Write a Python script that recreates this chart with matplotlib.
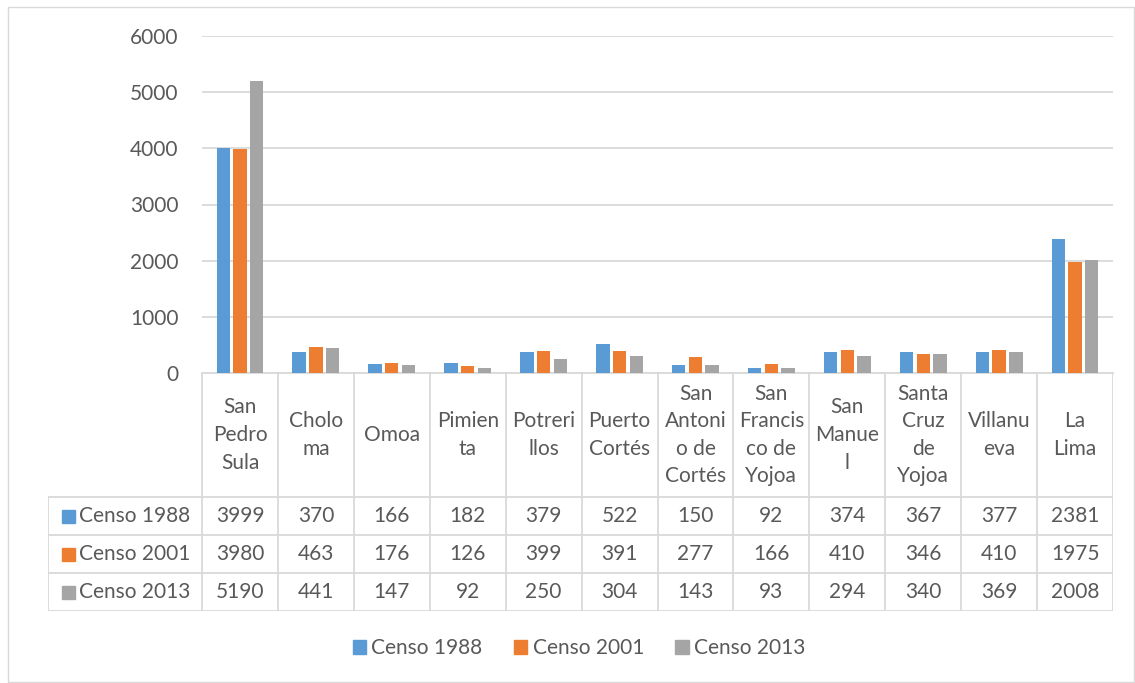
import matplotlib
matplotlib.use("Agg")
import matplotlib.pyplot as plt
from matplotlib.patches import Rectangle
import numpy as np

plt.rcParams['font.family'] = ['Lato', 'DejaVu Sans']

categories = ["San\nPedro\nSula", "Cholo\nma", "Omoa", "Pimien\nta", "Potreri\nllos",
              "Puerto\nCortés", "San\nAntoni\no de\nCortés", "San\nFrancis\nco de\nYojoa",
              "San\nManue\nl", "Santa\nCruz\nde\nYojoa", "Villanu\neva", "La\nLima"]
series_names = ["Censo 1988", "Censo 2001", "Censo 2013"]
censo_1988 = [3999, 370, 166, 182, 379, 522, 150, 92, 374, 367, 377, 2381]
censo_2001 = [3980, 463, 176, 126, 399, 391, 277, 166, 410, 346, 410, 1975]
censo_2013 = [5190, 441, 147, 92, 250, 304, 143, 93, 294, 340, 369, 2008]
yticks = [0, 1000, 2000, 3000, 4000, 5000, 6000]

series = [censo_1988, censo_2001, censo_2013]
colors = ["#5b9bd5", "#ed7d31", "#a5a5a5"]
txt = "#595959"
grid = "#d9d9d9"
FS = 15

W, H = 1135, 683
fig = plt.figure(figsize=(W / 100, H / 100), dpi=100)

def fx(px):
    return px / W

def fy(py):
    return 1 - py / H

# outer border
fig.patches.append(Rectangle((fx(8), fy(682)), fx(1134) - fx(8), fy(7) - fy(682),
                             transform=fig.transFigure, fill=False, edgecolor=grid, lw=1))

L, R, T, B = 202, 1113, 36, 373
ax = fig.add_axes([fx(L), fy(B), fx(R) - fx(L), fy(T) - fy(B)])
n = len(categories)
x = np.arange(n)
bw, step = 0.176, 0.22
for i, (vals, c) in enumerate(zip(series, colors)):
    ax.bar(x + (i - 1) * step, vals, width=bw, color=c, zorder=3)
ax.set_xlim(-0.5, n - 0.5)
ax.set_ylim(0, 6000)
ax.set_yticks(yticks)
ax.set_yticklabels([str(v) for v in yticks], fontsize=FS, color=txt)
ax.tick_params(axis='y', length=0, pad=17)
ax.set_xticks([])
ax.grid(axis='y', color=grid, lw=1.3, zorder=0)
for s in ['top', 'right', 'left']:
    ax.spines[s].set_visible(False)
ax.spines['bottom'].set_color(grid)
ax.spines['bottom'].set_linewidth(1.3)

# data table
TL, TB = 48, 611
colw = (R - L) / n
tax = fig.add_axes([fx(TL), fy(TB), fx(R) - fx(TL), fy(B) - fy(TB)])
tax.set_xlim(-0.5 - (L - TL) / colw, n - 0.5)
tax.set_ylim(TB, B)
tax.axis('off')
rows = [B, 497, 535, 573, TB]
lk = dict(color=grid, lw=1.3, solid_capstyle='butt')
for k in range(n + 1):
    tax.plot([k - 0.5, k - 0.5], [B, TB], **lk)
xl = -0.5 - (L - TL) / colw
tax.plot([xl, xl], [497, TB], **lk)
for r in rows[1:]:
    tax.plot([xl, n - 0.5], [r, r], **lk)
for k, lab in enumerate(categories):
    tax.text(k, (B + 497) / 2, lab, ha='center', va='center', fontsize=FS,
             color=txt, linespacing=1.47)
for j, (vals, name, c) in enumerate(zip(series, series_names, colors)):
    yc = (rows[j + 1] + rows[j + 2]) / 2
    for k, v in enumerate(vals):
        tax.text(k, yc, str(v), ha='center', va='center', fontsize=FS, color=txt)
    sq = (13 / colw)
    tax.add_patch(Rectangle((xl + 14 / colw, yc - 6.5), sq, 13, color=c))
    tax.text(xl + 31 / colw, yc, name, ha='left', va='center', fontsize=FS, color=txt)

# legend
handles = [Rectangle((0, 0), 1, 1, color=c) for c in colors]
fig.legend(handles, series_names, loc='center', bbox_to_anchor=(fx(579), fy(648)),
           ncol=3, frameon=False, fontsize=FS, handlelength=0.65, handleheight=0.65,
           handletextpad=0.25, columnspacing=1.5, labelcolor=txt)

fig.savefig("out.png", dpi=100)
